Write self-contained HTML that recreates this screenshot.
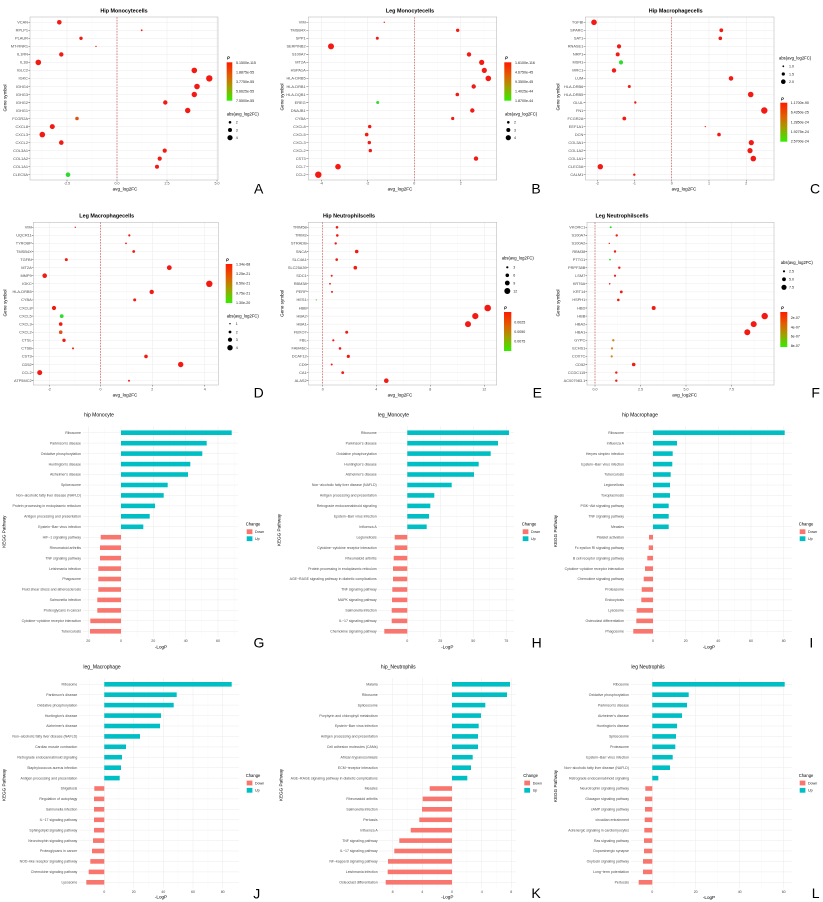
<!DOCTYPE html>
<html><head><meta charset="utf-8">
<style>
html,body{margin:0;padding:0;background:#fff;}
svg{display:block}
text{font-family:"Liberation Sans",Arial,sans-serif;}
.t{font-size:5.4px;font-weight:bold;text-anchor:middle;fill:#000}
.bt{font-size:5px;text-anchor:middle;fill:#000}
.gl{font-size:3.9px;text-anchor:end;fill:#4d4d4d}
.bl{font-size:3.5px;text-anchor:end;fill:#4d4d4d}
.tk{font-size:3.6px;text-anchor:middle;fill:#4d4d4d}
.ax{font-size:4.6px;text-anchor:middle;fill:#000}
.lg{font-size:3.6px;fill:#222}
.lt{font-size:4.2px;fill:#000}
.L{font-size:14px;fill:#000;text-anchor:middle}
.grid{stroke:#ebebeb;stroke-width:.5;fill:none}
.gmin{stroke:#f3f3f3;stroke-width:.3;fill:none}
.bord{fill:none;stroke:#b0b0b0;stroke-width:.5}
.dash{stroke:#c24040;stroke-width:.6;stroke-dasharray:1.6 1.2;fill:none}
.tm{stroke:#333;stroke-width:.4;fill:none}
.r{fill:#f21a12}
.g{fill:#2edb2e}
.o{fill:#e05418}
.o2{fill:#d0861c}
</style></head>
<body>
<svg width="823" height="902" viewBox="0 0 823 902" xmlns="http://www.w3.org/2000/svg">
<defs>
<linearGradient id="pg" x1="0" y1="0" x2="0" y2="1">
<stop offset="0" stop-color="#ff1a00"/>
<stop offset=".35" stop-color="#e06000"/>
<stop offset=".65" stop-color="#a0a000"/>
<stop offset="1" stop-color="#33ee00"/>
</linearGradient>
</defs>
<rect width="823" height="902" fill="#fff"/>

<!-- ================= A ================= -->
<text class="t" x="124" y="12.3">Hip Monocytecells</text>
<path d="M124 22.05V175.2" stroke="#ebebeb" stroke-width="188" stroke-dasharray=".5 7.52"/>
<path class="gmin" d="M42 17V180M92 17V180M142 17V180M192 17V180"/>
<path class="grid" d="M67 17V180M117 17V180M167 17V180M217 17V180"/>
<path class="dash" d="M117 17V180"/>
<rect class="bord" x="30" y="17" width="188" height="163"/>
<path d="M29.15 22.1V175.2" stroke="#333" stroke-width="1.7" stroke-dasharray=".4 7.62"/>
<path class="tm" d="M67 180v1.5M117 180v1.5M167 180v1.5M217 180v1.5"/>
<text class="gl" y="23.6"><tspan x="28">VCAN</tspan><tspan x="28" dy="8.02">RPLP1</tspan><tspan x="28" dy="8.02">PLAUR</tspan><tspan x="28" dy="8.02">MT-RNR1</tspan><tspan x="28" dy="8.02">IL1RN</tspan><tspan x="28" dy="8.02">IL1B</tspan><tspan x="28" dy="8.02">IGLC2</tspan><tspan x="28" dy="8.02">IGKC</tspan><tspan x="28" dy="8.02">IGHG4</tspan><tspan x="28" dy="8.02">IGHG3</tspan><tspan x="28" dy="8.02">IGHG2</tspan><tspan x="28" dy="8.02">IGHG1</tspan><tspan x="28" dy="8.02">FCGR2A</tspan><tspan x="28" dy="8.02">CXCL8</tspan><tspan x="28" dy="8.02">CXCL3</tspan><tspan x="28" dy="8.02">CXCL2</tspan><tspan x="28" dy="8.02">COL3A1</tspan><tspan x="28" dy="8.02">COL1A2</tspan><tspan x="28" dy="8.02">COL1A1</tspan><tspan x="28" dy="8.02">CLEC5A</tspan></text>
<g class="r">
<circle cx="59.3" cy="22.3" r="2.3"/><circle cx="141.7" cy="30.3" r=".9"/><circle cx="81" cy="38.3" r="1.7"/><circle cx="96" cy="46.4" r=".7"/><circle cx="61.3" cy="54.4" r="2.2"/><circle cx="38.3" cy="62.4" r="2.8"/><circle cx="194.3" cy="70.4" r="2.8"/><circle cx="209.3" cy="78.4" r="3.2"/><circle cx="197" cy="86.5" r="2.8"/><circle cx="194.3" cy="94.5" r="2.7"/><circle cx="165.3" cy="102.5" r="2.2"/><circle cx="187.7" cy="110.5" r="2.7"/><circle cx="52.3" cy="126.6" r="2.5"/><circle cx="42.3" cy="134.6" r="2.8"/><circle cx="61.3" cy="142.6" r="2.3"/><circle cx="164.7" cy="150.6" r="2.1"/><circle cx="159.7" cy="158.6" r="2.1"/><circle cx="157" cy="166.7" r="2"/>
</g>
<circle class="o" cx="77" cy="118.5" r="1.8"/>
<circle class="g" cx="68" cy="174.7" r="2.3"/>
<text class="tk" y="184.6"><tspan x="67">-2.5</tspan><tspan x="117">0.0</tspan><tspan x="167">2.5</tspan><tspan x="217">5.0</tspan></text>
<text class="ax" x="125" y="190.6">avg_log2FC</text>
<text class="ax" transform="translate(6.3,98) rotate(-90)">Gene symbol</text>
<text class="lt" x="227" y="59.5" font-style="italic" font-weight="bold">P</text>
<rect x="226.7" y="62.3" width="5.6" height="38.4" fill="url(#pg)"/>
<text class="lg" x="236" y="64">5.1500e-115</text><text class="lg" x="236" y="73.6">1.8875e-55</text><text class="lg" x="236" y="83">3.7750e-55</text><text class="lg" x="236" y="92.6">5.6625e-55</text><text class="lg" x="236" y="102">7.5500e-55</text>
<text class="lt" x="226.7" y="115.3">abs(avg_log2FC)</text>
<circle cx="230" cy="122.3" r="1.3"/><circle cx="230" cy="130" r="2"/><circle cx="230" cy="137.7" r="2.6"/>
<text class="lg" x="235.7" y="123.6">2</text><text class="lg" x="235.7" y="131.3">3</text><text class="lg" x="235.7" y="139">4</text>
<text class="L" x="258.7" y="193.3">A</text>

<!-- ================= B ================= -->
<text class="t" x="410" y="12.3">Leg Monocytecells</text>
<path d="M402.5 22.05V175.2" stroke="#ebebeb" stroke-width="188.4" stroke-dasharray=".5 7.52"/>
<path class="gmin" d="M344.5 17V180M391 17V180M437.5 17V180M484 17V180"/>
<path class="grid" d="M321.3 17V180M367.7 17V180M414.3 17V180M460.7 17V180"/>
<path class="dash" d="M414.3 17V180"/>
<rect class="bord" x="308.3" y="17" width="188.4" height="163"/>
<path d="M307.3 22.1V175.2" stroke="#333" stroke-width="2" stroke-dasharray=".4 7.62"/>
<path class="tm" d="M321.3 180v1.5M367.7 180v1.5M414.3 180v1.5M460.7 180v1.5"/>
<text class="gl" y="23.6"><tspan x="305.7">VIM</tspan><tspan x="305.7" dy="8.02">TMSB4X</tspan><tspan x="305.7" dy="8.02">SPP1</tspan><tspan x="305.7" dy="8.02">SERPINB2</tspan><tspan x="305.7" dy="8.02">S100A7</tspan><tspan x="305.7" dy="8.02">MT2A</tspan><tspan x="305.7" dy="8.02">HSPA1A</tspan><tspan x="305.7" dy="8.02">HLA-DRB5</tspan><tspan x="305.7" dy="8.02">HLA-DRB1</tspan><tspan x="305.7" dy="8.02">HLA-DQB1</tspan><tspan x="305.7" dy="8.02">EREG</tspan><tspan x="305.7" dy="8.02">DNAJB1</tspan><tspan x="305.7" dy="8.02">CYBA</tspan><tspan x="305.7" dy="8.02">CXCL8</tspan><tspan x="305.7" dy="8.02">CXCL5</tspan><tspan x="305.7" dy="8.02">CXCL3</tspan><tspan x="305.7" dy="8.02">CXCL2</tspan><tspan x="305.7" dy="8.02">CST3</tspan><tspan x="305.7" dy="8.02">CCL7</tspan><tspan x="305.7" dy="8.02">CCL2</tspan></text>
<g class="r">
<circle cx="384.3" cy="22.3" r=".7"/><circle cx="457.7" cy="30.3" r="1.7"/><circle cx="377.3" cy="38.3" r="1.5"/><circle cx="331" cy="46.4" r="3"/><circle cx="469" cy="54.4" r="2.2"/><circle cx="481.7" cy="62.4" r="2.6"/><circle cx="484.3" cy="70.4" r="2.6"/><circle cx="488.3" cy="78.4" r="2.8"/><circle cx="473.7" cy="86.5" r="2.2"/><circle cx="457.3" cy="94.5" r="1.8"/><circle cx="472.3" cy="110.5" r="2.2"/><circle cx="452.7" cy="118.5" r="1.6"/><circle cx="369.7" cy="126.6" r="1.7"/><circle cx="366.7" cy="134.6" r="1.8"/><circle cx="369.3" cy="142.6" r="1.7"/><circle cx="370.3" cy="150.6" r="1.7"/><circle cx="476" cy="158.6" r="2.2"/><circle cx="338" cy="166.7" r="2.8"/><circle cx="318.3" cy="174.7" r="3.2"/>
</g>
<circle class="g" cx="377.7" cy="102.5" r="1.5"/>
<text class="tk" y="184.6"><tspan x="321.3">-4</tspan><tspan x="367.7">-2</tspan><tspan x="414.3">0</tspan><tspan x="460.7">2</tspan></text>
<text class="ax" x="400" y="190.6">avg_log2FC</text>
<text class="ax" transform="translate(283.3,97) rotate(-90)">Gene symbol</text>
<text class="lt" x="505" y="59.5" font-style="italic" font-weight="bold">P</text>
<rect x="504.3" y="62.3" width="7" height="38.4" fill="url(#pg)"/>
<text class="lg" x="515" y="64">1.6100e-116</text><text class="lg" x="515" y="73.6">4.6750e-45</text><text class="lg" x="515" y="83">9.3500e-45</text><text class="lg" x="515" y="92.6">1.4025e-44</text><text class="lg" x="515" y="102">1.8700e-44</text>
<text class="lt" x="505" y="115.6">abs(avg_log2FC)</text>
<circle cx="508.3" cy="122.3" r="1.3"/><circle cx="508.3" cy="130" r="2"/><circle cx="508.3" cy="137.7" r="2.6"/>
<text class="lg" x="514" y="123.6">2</text><text class="lg" x="514" y="131.3">3</text><text class="lg" x="514" y="139">4</text>
<text class="L" x="536" y="193.3">B</text>

<!-- ================= C ================= -->
<text class="t" x="675.7" y="12.3">Hip Macrophagecells</text>
<path d="M679.65 22.05V175.2" stroke="#ebebeb" stroke-width="188.7" stroke-dasharray=".5 7.52"/>
<path class="gmin" d="M615.8 17V180M653 17V180M690.3 17V180M727.7 17V180M765 17V180"/>
<path class="grid" d="M597.3 17V180M634.3 17V180M671.7 17V180M709 17V180M746.3 17V180"/>
<path class="dash" d="M671.7 17V180"/>
<rect class="bord" x="585.3" y="17" width="188.7" height="163"/>
<path d="M584.45 22.1V175.2" stroke="#333" stroke-width="1.7" stroke-dasharray=".4 7.62"/>
<path class="tm" d="M597.3 180v1.5M634.3 180v1.5M671.7 180v1.5M709 180v1.5M746.3 180v1.5"/>
<text class="gl" y="23.6"><tspan x="583.3">TGFBI</tspan><tspan x="583.3" dy="8.02">SPARC</tspan><tspan x="583.3" dy="8.02">SAT1</tspan><tspan x="583.3" dy="8.02">RNASE1</tspan><tspan x="583.3" dy="8.02">NRP1</tspan><tspan x="583.3" dy="8.02">MSR1</tspan><tspan x="583.3" dy="8.02">MRC1</tspan><tspan x="583.3" dy="8.02">LUM</tspan><tspan x="583.3" dy="8.02">HLA-DRB6</tspan><tspan x="583.3" dy="8.02">HLA-DRB5</tspan><tspan x="583.3" dy="8.02">GLUL</tspan><tspan x="583.3" dy="8.02">FN1</tspan><tspan x="583.3" dy="8.02">FCGR2A</tspan><tspan x="583.3" dy="8.02">EEF1A1</tspan><tspan x="583.3" dy="8.02">DCN</tspan><tspan x="583.3" dy="8.02">COL3A1</tspan><tspan x="583.3" dy="8.02">COL1A2</tspan><tspan x="583.3" dy="8.02">COL1A1</tspan><tspan x="583.3" dy="8.02">CLEC5A</tspan><tspan x="583.3" dy="8.02">CALM1</tspan></text>
<g class="r">
<circle cx="594" cy="22.3" r="2.8"/><circle cx="721.3" cy="30.3" r="1.9"/><circle cx="720.3" cy="38.3" r="1.8"/><circle cx="619" cy="46.4" r="2.1"/><circle cx="617.7" cy="54.4" r="2"/><circle cx="614" cy="70.4" r="2.2"/><circle cx="731" cy="78.4" r="2.3"/><circle cx="629.3" cy="86.5" r="1.5"/><circle cx="750.7" cy="94.5" r="2.8"/><circle cx="635.3" cy="102.5" r="1.2"/><circle cx="764.3" cy="110.5" r="3.2"/><circle cx="624.3" cy="118.5" r="1.9"/><circle cx="705.3" cy="126.6" r=".6"/><circle cx="719" cy="134.6" r="1.8"/><circle cx="751.3" cy="142.6" r="2.6"/><circle cx="750" cy="150.6" r="2.6"/><circle cx="753.3" cy="158.6" r="2.8"/><circle cx="600.3" cy="166.7" r="2.7"/><circle cx="634.3" cy="174.7" r="1.2"/>
</g>
<circle class="g" cx="621" cy="62.4" r="2.1"/>
<text class="tk" y="184.6"><tspan x="597.3">-2</tspan><tspan x="634.3">-1</tspan><tspan x="671.7">0</tspan><tspan x="709">1</tspan><tspan x="746.3">2</tspan></text>
<text class="ax" x="684" y="190.6">avg_log2FC</text>
<text class="ax" transform="translate(559.6,97) rotate(-90)">Gene symbol</text>
<text class="lt" x="779" y="59.3">abs(avg_log2FC)</text>
<circle cx="783.3" cy="66.3" r=".9"/><circle cx="783.3" cy="74" r="1.6"/><circle cx="783.3" cy="81.7" r="2.3"/>
<text class="lg" x="789" y="67.6">1.0</text><text class="lg" x="789" y="75.3">1.5</text><text class="lg" x="789" y="83">2.0</text>
<text class="lt" x="781" y="100.6" font-style="italic" font-weight="bold">P</text>
<rect x="780.3" y="102.7" width="7" height="39" fill="url(#pg)"/>
<text class="lg" x="790.7" y="104">1.1700e-90</text><text class="lg" x="790.7" y="113.6">6.4350e-25</text><text class="lg" x="790.7" y="123.3">1.2850e-24</text><text class="lg" x="790.7" y="133">1.9275e-24</text><text class="lg" x="790.7" y="142.6">2.5700e-24</text>
<text class="L" x="815" y="193.3">C</text>

<!-- ================= D ================= -->
<text class="t" x="106.7" y="217.3">Leg Macrophagecells</text>
<path d="M125.8 227.05V381" stroke="#ebebeb" stroke-width="185" stroke-dasharray=".5 7.57"/>
<path class="gmin" d="M75 222.3V385M126.5 222.3V385M178.5 222.3V385"/>
<path class="grid" d="M49.3 222.3V385M100.5 222.3V385M152.3 222.3V385M204.7 222.3V385"/>
<path class="dash" d="M100.5 222.3V385"/>
<rect class="bord" x="33.3" y="222.3" width="185" height="162.7"/>
<path d="M32.55 227.1V381" stroke="#333" stroke-width="1.5" stroke-dasharray=".4 7.67"/>
<path class="tm" d="M49.3 385v1.5M100.5 385v1.5M152.3 385v1.5M204.7 385v1.5"/>
<text class="gl" y="228.6"><tspan x="31.7">VIM</tspan><tspan x="31.7" dy="8.07">UQCR11</tspan><tspan x="31.7" dy="8.07">TYROBP</tspan><tspan x="31.7" dy="8.07">TMSB4X</tspan><tspan x="31.7" dy="8.07">TGFBI</tspan><tspan x="31.7" dy="8.07">MT2A</tspan><tspan x="31.7" dy="8.07">MMP9</tspan><tspan x="31.7" dy="8.07">IGKC</tspan><tspan x="31.7" dy="8.07">HLA-DRB5</tspan><tspan x="31.7" dy="8.07">CYBA</tspan><tspan x="31.7" dy="8.07">CXCL8</tspan><tspan x="31.7" dy="8.07">CXCL5</tspan><tspan x="31.7" dy="8.07">CXCL3</tspan><tspan x="31.7" dy="8.07">CXCL2</tspan><tspan x="31.7" dy="8.07">CTSL</tspan><tspan x="31.7" dy="8.07">CTSB</tspan><tspan x="31.7" dy="8.07">CST3</tspan><tspan x="31.7" dy="8.07">CD52</tspan><tspan x="31.7" dy="8.07">CCL2</tspan><tspan x="31.7" dy="8.07">ATP5MC2</tspan></text>
<g class="r">
<circle cx="75.3" cy="227.3" r=".7"/><circle cx="129.3" cy="235.4" r="1.1"/><circle cx="126" cy="243.4" r=".9"/><circle cx="133.7" cy="251.5" r="1.4"/><circle cx="66.3" cy="259.6" r="1.5"/><circle cx="169.3" cy="267.7" r="2.4"/><circle cx="44.7" cy="275.7" r="2.3"/><circle cx="209.3" cy="283.8" r="3.2"/><circle cx="151.7" cy="291.9" r="2.2"/><circle cx="134.7" cy="299.9" r="1.5"/><circle cx="54" cy="308" r="2.1"/><circle cx="60.7" cy="324.1" r="1.8"/><circle cx="64" cy="340.3" r="1.7"/><circle cx="73" cy="348.4" r="1"/><circle cx="146" cy="356.4" r="1.8"/><circle cx="180.7" cy="364.5" r="2.7"/><circle cx="39.7" cy="372.6" r="2.5"/><circle cx="129" cy="380.7" r="1"/>
</g>
<circle class="g" cx="61.7" cy="316.1" r="1.9"/>
<circle class="o" cx="60.7" cy="332.2" r="1.8"/>
<text class="tk" y="390.6"><tspan x="49.3">-2</tspan><tspan x="100.5">0</tspan><tspan x="152.3">2</tspan><tspan x="204.7">4</tspan></text>
<text class="ax" x="125" y="396.5">avg_log2FC</text>
<text class="ax" transform="translate(6.3,303) rotate(-90)">Gene symbol</text>
<text class="lt" x="226" y="261.3" font-style="italic" font-weight="bold">P</text>
<rect x="225.7" y="264" width="6.6" height="39" fill="url(#pg)"/>
<text class="lg" x="236" y="265.3">1.34e-68</text><text class="lg" x="236" y="275">3.25e-21</text><text class="lg" x="236" y="284.6">6.50e-21</text><text class="lg" x="236" y="294.3">9.75e-21</text><text class="lg" x="236" y="304">1.30e-20</text>
<text class="lt" x="226.7" y="317.3">abs(avg_log2FC)</text>
<circle cx="230" cy="323.7" r=".7"/><circle cx="230" cy="332" r="1.4"/><circle cx="230" cy="339.7" r="2.1"/><circle cx="230" cy="347.7" r="2.7"/>
<text class="lg" x="235.7" y="325">1</text><text class="lg" x="235.7" y="333.3">2</text><text class="lg" x="235.7" y="341">3</text><text class="lg" x="235.7" y="349">4</text>
<text class="L" x="258.7" y="397.7">D</text>

<!-- ================= E ================= -->
<text class="t" x="349" y="217.3">Hip Neutrophilscells</text>
<path d="M402.5 227.05V381" stroke="#ebebeb" stroke-width="188.4" stroke-dasharray=".5 7.57"/>
<path class="gmin" d="M349.5 222.3V385M403.3 222.3V385M457.3 222.3V385"/>
<path class="grid" d="M322.7 222.3V385M376.3 222.3V385M430.3 222.3V385M484.3 222.3V385"/>
<path class="dash" d="M322.7 222.3V385"/>
<rect class="bord" x="308.3" y="222.3" width="188.4" height="162.7"/>
<path d="M307.55 227.1V381" stroke="#333" stroke-width="1.5" stroke-dasharray=".4 7.67"/>
<path class="tm" d="M322.7 385v1.5M376.3 385v1.5M430.3 385v1.5M484.3 385v1.5"/>
<text class="gl" y="228.6"><tspan x="306.7">TRIM58</tspan><tspan x="306.7" dy="8.07">TRIM2</tspan><tspan x="306.7" dy="8.07">STRADB</tspan><tspan x="306.7" dy="8.07">SNCA</tspan><tspan x="306.7" dy="8.07">SLC4A1</tspan><tspan x="306.7" dy="8.07">SLC25A39</tspan><tspan x="306.7" dy="8.07">SDC1</tspan><tspan x="306.7" dy="8.07">RBM38</tspan><tspan x="306.7" dy="8.07">PERP</tspan><tspan x="306.7" dy="8.07">HES1</tspan><tspan x="306.7" dy="8.07">HBB</tspan><tspan x="306.7" dy="8.07">HBA2</tspan><tspan x="306.7" dy="8.07">HBA1</tspan><tspan x="306.7" dy="8.07">FBXO7</tspan><tspan x="306.7" dy="8.07">FBL</tspan><tspan x="306.7" dy="8.07">FAM46C</tspan><tspan x="306.7" dy="8.07">DCAF12</tspan><tspan x="306.7" dy="8.07">CD9</tspan><tspan x="306.7" dy="8.07">CA1</tspan><tspan x="306.7" dy="8.07">ALAS2</tspan></text>
<g class="r">
<circle cx="337" cy="227.3" r="1.3"/><circle cx="337.3" cy="235.4" r="1.3"/><circle cx="335.7" cy="243.4" r="1.2"/><circle cx="356.7" cy="251.5" r="1.8"/><circle cx="336.7" cy="259.6" r="1.3"/><circle cx="355.3" cy="267.7" r="1.8"/><circle cx="331.7" cy="275.7" r="1"/><circle cx="330" cy="283.8" r=".9"/><circle cx="332" cy="291.9" r="1"/><circle cx="487.7" cy="308" r="3.3"/><circle cx="475.3" cy="316.1" r="3.1"/><circle cx="468" cy="324.1" r="3"/><circle cx="346.7" cy="332.2" r="1.5"/><circle cx="333.3" cy="340.3" r="1.1"/><circle cx="340" cy="348.4" r="1.3"/><circle cx="348.3" cy="356.4" r="1.6"/><circle cx="331.7" cy="364.5" r="1"/><circle cx="342.7" cy="372.6" r="1.4"/><circle cx="386.3" cy="380.7" r="2.3"/>
</g>
<circle class="g" cx="316.3" cy="299.9" r=".6"/>
<text class="tk" y="390.6"><tspan x="322.7">0</tspan><tspan x="376.3">4</tspan><tspan x="430.3">8</tspan><tspan x="484.3">12</tspan></text>
<text class="ax" x="400" y="396.5">avg_log2FC</text>
<text class="ax" transform="translate(283.3,303.3) rotate(-90)">Gene symbol</text>
<text class="lt" x="501.7" y="259.3">abs(avg_log2FC)</text>
<circle cx="507.3" cy="267.3" r="1.1"/><circle cx="507.3" cy="275.3" r="1.8"/><circle cx="507.3" cy="283" r="2.4"/><circle cx="507.3" cy="291" r="3"/>
<text class="lg" x="513.3" y="268.6">3</text><text class="lg" x="513.3" y="276.6">6</text><text class="lg" x="513.3" y="284.3">9</text><text class="lg" x="513.3" y="292.3">12</text>
<text class="lt" x="504" y="309.6" font-style="italic" font-weight="bold">P</text>
<rect x="504" y="312" width="7.3" height="39" fill="url(#pg)"/>
<text class="lg" x="514.3" y="323.3">0.0025</text><text class="lg" x="514.3" y="333">0.0050</text><text class="lg" x="514.3" y="342.6">0.0075</text>
<text class="L" x="537.3" y="397.7">E</text>

<!-- ================= F ================= -->
<text class="t" x="622" y="217.3">Leg Neutrophilscells</text>
<path d="M680.5 227.05V381" stroke="#ebebeb" stroke-width="187" stroke-dasharray=".5 7.57"/>
<path class="gmin" d="M617.7 222.3V385M663.2 222.3V385M708.7 222.3V385M754.2 222.3V385"/>
<path class="grid" d="M595 222.3V385M640.5 222.3V385M686 222.3V385M731.5 222.3V385"/>
<path class="dash" d="M595 222.3V385"/>
<rect class="bord" x="587" y="222.3" width="187" height="162.7"/>
<path d="M586.2 227.1V381" stroke="#333" stroke-width="1.6" stroke-dasharray=".4 7.67"/>
<path class="tm" d="M595 385v1.5M640.5 385v1.5M686 385v1.5M731.5 385v1.5"/>
<text class="gl" y="228.6"><tspan x="585.3">VKORC1</tspan><tspan x="585.3" dy="8.07">S100A7</tspan><tspan x="585.3" dy="8.07">S100A2</tspan><tspan x="585.3" dy="8.07">RBM38</tspan><tspan x="585.3" dy="8.07">PTTG1</tspan><tspan x="585.3" dy="8.07">PRPF38B</tspan><tspan x="585.3" dy="8.07">LSM7</tspan><tspan x="585.3" dy="8.07">KRT6A</tspan><tspan x="585.3" dy="8.07">KRT14</tspan><tspan x="585.3" dy="8.07">HSPH1</tspan><tspan x="585.3" dy="8.07">HBD</tspan><tspan x="585.3" dy="8.07">HBB</tspan><tspan x="585.3" dy="8.07">HBA2</tspan><tspan x="585.3" dy="8.07">HBA1</tspan><tspan x="585.3" dy="8.07">GYPC</tspan><tspan x="585.3" dy="8.07">ECHS1</tspan><tspan x="585.3" dy="8.07">COX7C</tspan><tspan x="585.3" dy="8.07">CD52</tspan><tspan x="585.3" dy="8.07">CCDC115</tspan><tspan x="585.3" dy="8.07">AC007983.1</tspan></text>
<g class="r">
<circle cx="616.7" cy="235.4" r="1.2"/><circle cx="609.3" cy="243.4" r=".7"/><circle cx="615" cy="251.5" r="1.2"/><circle cx="619.3" cy="267.7" r="1.2"/><circle cx="615" cy="275.7" r="1.1"/><circle cx="609.7" cy="283.8" r=".8"/><circle cx="621.3" cy="291.9" r="1.4"/><circle cx="618.3" cy="299.9" r="1.3"/><circle cx="653.7" cy="308" r="2"/><circle cx="764.7" cy="316.1" r="3.2"/><circle cx="753.7" cy="324.1" r="3"/><circle cx="747.3" cy="332.2" r="3"/><circle cx="633.7" cy="364.5" r="1.8"/><circle cx="616.3" cy="372.6" r="1.2"/><circle cx="616.3" cy="380.7" r="1.2"/>
</g>
<g class="g"><circle cx="610.7" cy="227.3" r="1"/><circle cx="610" cy="259.6" r=".9"/></g>
<g class="o2"><circle cx="613.3" cy="340.3" r="1.2"/><circle cx="612" cy="348.4" r="1.1"/><circle cx="611.7" cy="356.4" r="1.1"/></g>
<text class="tk" y="390.6"><tspan x="595">0.0</tspan><tspan x="640.5">2.5</tspan><tspan x="686">5.0</tspan><tspan x="731.5">7.5</tspan></text>
<text class="ax" x="684.7" y="396.5">avg_log2FC</text>
<text class="ax" transform="translate(559.6,303) rotate(-90)">Gene symbol</text>
<text class="lt" x="780.7" y="264">abs(avg_log2FC)</text>
<circle cx="784" cy="271.3" r="1.1"/><circle cx="784" cy="279.3" r="1.9"/><circle cx="784" cy="287.3" r="2.6"/>
<text class="lg" x="789" y="272.6">2.5</text><text class="lg" x="789" y="280.6">5.0</text><text class="lg" x="789" y="288.6">7.5</text>
<text class="lt" x="781" y="309.6" font-style="italic" font-weight="bold">P</text>
<rect x="780.3" y="312" width="7" height="35" fill="url(#pg)"/>
<text class="lg" x="790.7" y="319">2e-07</text><text class="lg" x="790.7" y="328.3">4e-07</text><text class="lg" x="790.7" y="337.6">6e-07</text><text class="lg" x="790.7" y="347">8e-07</text>
<text class="L" x="815.7" y="397.7">F</text>

<!-- ================= G ================= -->
<text class="bt" x="99" y="416.5">hip Monocyte</text>
<path d="M160.5 432.45V632" stroke="#ebebeb" stroke-width="155" stroke-dasharray=".5 9.95"/>
<path class="gmin" d="M104.7 426.4V637.6M137.2 426.4V637.6M169.5 426.4V637.6M201.8 426.4V637.6M234.2 426.4V637.6"/>
<path class="grid" d="M88.3 426.4V637.6M121 426.4V637.6M153.3 426.4V637.6M185.7 426.4V637.6M218 426.4V637.6"/>
<g fill="#00BFC4">
<rect x="121" y="430.4" width="110.7" height="4.6"/><rect x="121" y="440.9" width="85.7" height="4.6"/><rect x="121" y="451.3" width="81.3" height="4.6"/><rect x="121" y="461.8" width="69.3" height="4.6"/><rect x="121" y="472.2" width="67" height="4.6"/><rect x="121" y="482.7" width="46.7" height="4.6"/><rect x="121" y="493.1" width="42.7" height="4.6"/><rect x="121" y="503.6" width="34" height="4.6"/><rect x="121" y="514" width="28.7" height="4.6"/><rect x="121" y="524.5" width="22.3" height="4.6"/>
</g>
<g fill="#F8766D">
<rect x="100.7" y="534.9" width="20.3" height="4.6"/><rect x="100" y="545.4" width="21" height="4.6"/><rect x="100" y="555.8" width="21" height="4.6"/><rect x="98.3" y="566.3" width="22.7" height="4.6"/><rect x="98.3" y="576.7" width="22.7" height="4.6"/><rect x="98.3" y="587.2" width="22.7" height="4.6"/><rect x="97.3" y="597.6" width="23.7" height="4.6"/><rect x="97.3" y="608.1" width="23.7" height="4.6"/><rect x="90.3" y="618.6" width="30.7" height="4.6"/><rect x="90" y="629" width="31" height="4.6"/>
</g>
<text class="bl" y="433.9"><tspan x="81">Ribosome</tspan><tspan x="81" dy="10.45">Parkinson's disease</tspan><tspan x="81" dy="10.45">Oxidative phosphorylation</tspan><tspan x="81" dy="10.45">Huntington's disease</tspan><tspan x="81" dy="10.45">Alzheimer's disease</tspan><tspan x="81" dy="10.45">Spliceosome</tspan><tspan x="81" dy="10.45">Non−alcoholic fatty liver disease (NAFLD)</tspan><tspan x="81" dy="10.45">Protein processing in endoplasmic reticulum</tspan><tspan x="81" dy="10.45">Antigen processing and presentation</tspan><tspan x="81" dy="10.45">Epstein−Barr virus infection</tspan><tspan x="81" dy="10.45">HIF−1 signaling pathway</tspan><tspan x="81" dy="10.45">Rheumatoid arthritis</tspan><tspan x="81" dy="10.45">TNF signaling pathway</tspan><tspan x="81" dy="10.45">Leishmania infection</tspan><tspan x="81" dy="10.45">Phagosome</tspan><tspan x="81" dy="10.45">Fluid shear stress and atherosclerosis</tspan><tspan x="81" dy="10.45">Salmonella infection</tspan><tspan x="81" dy="10.45">Proteoglycans in cancer</tspan><tspan x="81" dy="10.45">Cytokine−cytokine receptor interaction</tspan><tspan x="81" dy="10.45">Tuberculosis</tspan></text>
<text class="tk" y="642"><tspan x="88.3">20</tspan><tspan x="121">0</tspan><tspan x="153.3">20</tspan><tspan x="185.7">40</tspan><tspan x="218">60</tspan></text>
<text class="ax" x="161" y="648.5">-LogP</text>
<text class="ax" transform="translate(5.6,531.7) rotate(-90)">KEGG Pathway</text>
<text class="lt" x="245.7" y="525.5">Change</text>
<rect x="246.7" y="529.3" width="5.7" height="4.8" fill="#F8766D"/><rect x="246.7" y="536.3" width="5.7" height="4.8" fill="#00BFC4"/>
<text class="lg" x="255" y="533" font-size="3.3">Down</text><text class="lg" x="255" y="540" font-size="3.3">Up</text>
<text class="L" x="259" y="647.7">G</text>

<!-- ================= H ================= -->
<text class="bt" x="393.5" y="416.5">leg_Monocyte</text>
<path d="M446 432.45V632" stroke="#ebebeb" stroke-width="136" stroke-dasharray=".5 9.95"/>
<path class="gmin" d="M390.8 426.4V637.6M423.8 426.4V637.6M456.8 426.4V637.6M489.8 426.4V637.6"/>
<path class="grid" d="M407.3 426.4V637.6M440.3 426.4V637.6M473.3 426.4V637.6M506.3 426.4V637.6"/>
<g fill="#00BFC4">
<rect x="407.3" y="430.4" width="101.7" height="4.6"/><rect x="407.3" y="440.9" width="90.7" height="4.6"/><rect x="407.3" y="451.3" width="83.4" height="4.6"/><rect x="407.3" y="461.8" width="71.4" height="4.6"/><rect x="407.3" y="472.2" width="66.7" height="4.6"/><rect x="407.3" y="482.7" width="44.4" height="4.6"/><rect x="407.3" y="493.1" width="27" height="4.6"/><rect x="407.3" y="503.6" width="23" height="4.6"/><rect x="407.3" y="514" width="21.7" height="4.6"/><rect x="407.3" y="524.5" width="19.4" height="4.6"/>
</g>
<g fill="#F8766D">
<rect x="394.7" y="534.9" width="12.6" height="4.6"/><rect x="394.7" y="545.4" width="12.6" height="4.6"/><rect x="393.7" y="555.8" width="13.6" height="4.6"/><rect x="393" y="566.3" width="14.3" height="4.6"/><rect x="393" y="576.7" width="14.3" height="4.6"/><rect x="392.3" y="587.2" width="15" height="4.6"/><rect x="392" y="597.6" width="15.3" height="4.6"/><rect x="391.7" y="608.1" width="15.6" height="4.6"/><rect x="391.7" y="618.6" width="15.6" height="4.6"/><rect x="384.3" y="629" width="23" height="4.6"/>
</g>
<text class="bl" y="433.9"><tspan x="376.7">Ribosome</tspan><tspan x="376.7" dy="10.45">Parkinson's disease</tspan><tspan x="376.7" dy="10.45">Oxidative phosphorylation</tspan><tspan x="376.7" dy="10.45">Huntington's disease</tspan><tspan x="376.7" dy="10.45">Alzheimer's disease</tspan><tspan x="376.7" dy="10.45">Non−alcoholic fatty liver disease (NAFLD)</tspan><tspan x="376.7" dy="10.45">Antigen processing and presentation</tspan><tspan x="376.7" dy="10.45">Retrograde endocannabinoid signaling</tspan><tspan x="376.7" dy="10.45">Epstein−Barr virus infection</tspan><tspan x="376.7" dy="10.45">Influenza A</tspan><tspan x="376.7" dy="10.45">Legionellosis</tspan><tspan x="376.7" dy="10.45">Cytokine−cytokine receptor interaction</tspan><tspan x="376.7" dy="10.45">Rheumatoid arthritis</tspan><tspan x="376.7" dy="10.45">Protein processing in endoplasmic reticulum</tspan><tspan x="376.7" dy="10.45">AGE−RAGE signaling pathway in diabetic complications</tspan><tspan x="376.7" dy="10.45">TNF signaling pathway</tspan><tspan x="376.7" dy="10.45">MAPK signaling pathway</tspan><tspan x="376.7" dy="10.45">Salmonella infection</tspan><tspan x="376.7" dy="10.45">IL−17 signaling pathway</tspan><tspan x="376.7" dy="10.45">Chemokine signaling pathway</tspan></text>
<text class="tk" y="642"><tspan x="407.3">0</tspan><tspan x="440.3">25</tspan><tspan x="473.3">50</tspan><tspan x="506.3">75</tspan></text>
<text class="ax" x="447.3" y="648.5">-LogP</text>
<text class="ax" transform="translate(280.6,530) rotate(-90)">KEGG Pathway</text>
<text class="lt" x="521.7" y="525.5">Change</text>
<rect x="522.7" y="529.3" width="5.7" height="4.8" fill="#F8766D"/><rect x="522.7" y="536.3" width="5.7" height="4.8" fill="#00BFC4"/>
<text class="lg" x="531" y="533" font-size="3.3">Down</text><text class="lg" x="531" y="540" font-size="3.3">Up</text>
<text class="L" x="536.7" y="647.7">H</text>

<!-- ================= I ================= -->
<text class="bt" x="640" y="416.5">hip Macrophage</text>
<path d="M709 432.45V632" stroke="#ebebeb" stroke-width="166" stroke-dasharray=".5 9.95"/>
<path class="gmin" d="M636.7 426.4V637.6M669.3 426.4V637.6M702 426.4V637.6M734.7 426.4V637.6M767.3 426.4V637.6"/>
<path class="grid" d="M653 426.4V637.6M685.7 426.4V637.6M718.3 426.4V637.6M751 426.4V637.6M783.7 426.4V637.6"/>
<g fill="#00BFC4">
<rect x="653" y="430.4" width="131.7" height="4.6"/><rect x="653" y="440.9" width="24" height="4.6"/><rect x="653" y="451.3" width="19.7" height="4.6"/><rect x="653" y="461.8" width="19.3" height="4.6"/><rect x="653" y="472.2" width="17.7" height="4.6"/><rect x="653" y="482.7" width="17" height="4.6"/><rect x="653" y="493.1" width="17" height="4.6"/><rect x="653" y="503.6" width="15.7" height="4.6"/><rect x="653" y="514" width="15.7" height="4.6"/><rect x="653" y="524.5" width="15.7" height="4.6"/>
</g>
<g fill="#F8766D">
<rect x="649" y="534.9" width="4" height="4.6"/><rect x="648.7" y="545.4" width="4.3" height="4.6"/><rect x="647.3" y="555.8" width="5.7" height="4.6"/><rect x="645" y="566.3" width="8" height="4.6"/><rect x="643.7" y="576.7" width="9.3" height="4.6"/><rect x="641.7" y="587.2" width="11.3" height="4.6"/><rect x="641.3" y="597.6" width="11.7" height="4.6"/><rect x="636.7" y="608.1" width="16.3" height="4.6"/><rect x="636.3" y="618.6" width="16.7" height="4.6"/><rect x="633.3" y="629" width="19.7" height="4.6"/>
</g>
<text class="bl" y="433.9"><tspan x="624">Ribosome</tspan><tspan x="624" dy="10.45">Influenza A</tspan><tspan x="624" dy="10.45">Herpes simplex infection</tspan><tspan x="624" dy="10.45">Epstein−Barr virus infection</tspan><tspan x="624" dy="10.45">Tuberculosis</tspan><tspan x="624" dy="10.45">Legionellosis</tspan><tspan x="624" dy="10.45">Toxoplasmosis</tspan><tspan x="624" dy="10.45">PI3K−Akt signaling pathway</tspan><tspan x="624" dy="10.45">TNF signaling pathway</tspan><tspan x="624" dy="10.45">Measles</tspan><tspan x="624" dy="10.45">Platelet activation</tspan><tspan x="624" dy="10.45">Fc epsilon RI signaling pathway</tspan><tspan x="624" dy="10.45">B cell receptor signaling pathway</tspan><tspan x="624" dy="10.45">Cytokine−cytokine receptor interaction</tspan><tspan x="624" dy="10.45">Chemokine signaling pathway</tspan><tspan x="624" dy="10.45">Proteasome</tspan><tspan x="624" dy="10.45">Endocytosis</tspan><tspan x="624" dy="10.45">Lysosome</tspan><tspan x="624" dy="10.45">Osteoclast differentiation</tspan><tspan x="624" dy="10.45">Phagosome</tspan></text>
<text class="tk" y="642"><tspan x="653">0</tspan><tspan x="685.7">20</tspan><tspan x="718.3">40</tspan><tspan x="751">60</tspan><tspan x="783.7">80</tspan></text>
<text class="ax" x="709" y="648.5">-LogP</text>
<text class="ax" transform="translate(557,531) rotate(-90)">KEGG Pathway</text>
<text class="lt" x="798.7" y="525.5">Change</text>
<rect x="799.7" y="529.3" width="5.7" height="4.8" fill="#F8766D"/><rect x="799.7" y="536.3" width="5.7" height="4.8" fill="#00BFC4"/>
<text class="lg" x="808" y="533" font-size="3.3">Down</text><text class="lg" x="808" y="540" font-size="3.3">Up</text>
<text class="L" x="811.3" y="647.7">I</text>

<!-- ================= J ================= -->
<text class="bt" x="102" y="668.5">leg_Macrophage</text>
<path d="M159 684.05V883" stroke="#ebebeb" stroke-width="160" stroke-dasharray=".5 9.92"/>
<path class="gmin" d="M89.5 678V888.5M119 678V888.5M148.5 678V888.5M178 678V888.5M208 678V888.5"/>
<path class="grid" d="M104.3 678V888.5M133.7 678V888.5M163.3 678V888.5M193 678V888.5M222.7 678V888.5"/>
<g fill="#00BFC4">
<rect x="104.3" y="682" width="127.4" height="4.6"/><rect x="104.3" y="692.4" width="72.4" height="4.6"/><rect x="104.3" y="702.8" width="69.4" height="4.6"/><rect x="104.3" y="713.3" width="56.7" height="4.6"/><rect x="104.3" y="723.7" width="55.7" height="4.6"/><rect x="104.3" y="734.1" width="35.7" height="4.6"/><rect x="104.3" y="744.5" width="21.7" height="4.6"/><rect x="104.3" y="754.9" width="17.7" height="4.6"/><rect x="104.3" y="765.4" width="16.7" height="4.6"/><rect x="104.3" y="775.8" width="15.4" height="4.6"/>
</g>
<g fill="#F8766D">
<rect x="94.3" y="786.2" width="10" height="4.6"/><rect x="94" y="796.6" width="10.3" height="4.6"/><rect x="94" y="807" width="10.3" height="4.6"/><rect x="94" y="817.5" width="10.3" height="4.6"/><rect x="94" y="827.9" width="10.3" height="4.6"/><rect x="93" y="838.3" width="11.3" height="4.6"/><rect x="92" y="848.7" width="12.3" height="4.6"/><rect x="90.3" y="859.1" width="14" height="4.6"/><rect x="88.7" y="869.6" width="15.6" height="4.6"/><rect x="86.3" y="880" width="18" height="4.6"/>
</g>
<text class="bl" y="685.5"><tspan x="77.3">Ribosome</tspan><tspan x="77.3" dy="10.42">Parkinson's disease</tspan><tspan x="77.3" dy="10.42">Oxidative phosphorylation</tspan><tspan x="77.3" dy="10.42">Huntington's disease</tspan><tspan x="77.3" dy="10.42">Alzheimer's disease</tspan><tspan x="77.3" dy="10.42">Non−alcoholic fatty liver disease (NAFLD)</tspan><tspan x="77.3" dy="10.42">Cardiac muscle contraction</tspan><tspan x="77.3" dy="10.42">Retrograde endocannabinoid signaling</tspan><tspan x="77.3" dy="10.42">Staphylococcus aureus infection</tspan><tspan x="77.3" dy="10.42">Antigen processing and presentation</tspan><tspan x="77.3" dy="10.42">Shigellosis</tspan><tspan x="77.3" dy="10.42">Regulation of autophagy</tspan><tspan x="77.3" dy="10.42">Salmonella infection</tspan><tspan x="77.3" dy="10.42">IL−17 signaling pathway</tspan><tspan x="77.3" dy="10.42">Sphingolipid signaling pathway</tspan><tspan x="77.3" dy="10.42">Neurotrophin signaling pathway</tspan><tspan x="77.3" dy="10.42">Proteoglycans in cancer</tspan><tspan x="77.3" dy="10.42">NOD−like receptor signaling pathway</tspan><tspan x="77.3" dy="10.42">Chemokine signaling pathway</tspan><tspan x="77.3" dy="10.42">Lysosome</tspan></text>
<text class="tk" y="893"><tspan x="104.3">0</tspan><tspan x="133.7">20</tspan><tspan x="163.3">40</tspan><tspan x="193">60</tspan><tspan x="222.7">80</tspan></text>
<text class="ax" x="161" y="898.5">-LogP</text>
<text class="ax" transform="translate(5.6,785) rotate(-90)">KEGG Pathway</text>
<text class="lt" x="245.7" y="776.8">Change</text>
<rect x="246.7" y="780.6" width="5.7" height="4.8" fill="#F8766D"/><rect x="246.7" y="787.9" width="5.7" height="4.8" fill="#00BFC4"/>
<text class="lg" x="255" y="784.3" font-size="3.3">Down</text><text class="lg" x="255" y="791.6" font-size="3.3">Up</text>
<text class="L" x="256.7" y="898.3">J</text>

<!-- ================= K ================= -->
<text class="bt" x="398.3" y="668.5">hip_Neutrophils</text>
<path d="M447.5 684.05V883" stroke="#ebebeb" stroke-width="137" stroke-dasharray=".5 9.92"/>
<path class="gmin" d="M407.5 678V888.5M437.2 678V888.5M466.9 678V888.5M496.5 678V888.5"/>
<path class="grid" d="M392.6 678V888.5M422.3 678V888.5M452 678V888.5M481.7 678V888.5M511.3 678V888.5"/>
<g fill="#00BFC4">
<rect x="452" y="682" width="58" height="4.6"/><rect x="452" y="692.4" width="55" height="4.6"/><rect x="452" y="702.8" width="33.3" height="4.6"/><rect x="452" y="713.3" width="29" height="4.6"/><rect x="452" y="723.7" width="26.7" height="4.6"/><rect x="452" y="734.1" width="26" height="4.6"/><rect x="452" y="744.5" width="26" height="4.6"/><rect x="452" y="754.9" width="20.7" height="4.6"/><rect x="452" y="765.4" width="19" height="4.6"/><rect x="452" y="775.8" width="15.3" height="4.6"/>
</g>
<g fill="#F8766D">
<rect x="429.7" y="786.2" width="22.3" height="4.6"/><rect x="422.7" y="796.6" width="29.3" height="4.6"/><rect x="422" y="807" width="30" height="4.6"/><rect x="419.3" y="817.5" width="32.7" height="4.6"/><rect x="410.7" y="827.9" width="41.3" height="4.6"/><rect x="399.3" y="838.3" width="52.7" height="4.6"/><rect x="394.3" y="848.7" width="57.7" height="4.6"/><rect x="388" y="859.1" width="64" height="4.6"/><rect x="387.7" y="869.6" width="64.3" height="4.6"/><rect x="385.7" y="880" width="66.3" height="4.6"/>
</g>
<text class="bl" y="685.5"><tspan x="377.7">Malaria</tspan><tspan x="377.7" dy="10.42">Ribosome</tspan><tspan x="377.7" dy="10.42">Spliceosome</tspan><tspan x="377.7" dy="10.42">Porphyrin and chlorophyll metabolism</tspan><tspan x="377.7" dy="10.42">Epstein−Barr virus infection</tspan><tspan x="377.7" dy="10.42">Antigen processing and presentation</tspan><tspan x="377.7" dy="10.42">Cell adhesion molecules (CAMs)</tspan><tspan x="377.7" dy="10.42">African trypanosomiasis</tspan><tspan x="377.7" dy="10.42">ECM−receptor interaction</tspan><tspan x="377.7" dy="10.42">AGE−RAGE signaling pathway in diabetic complications</tspan><tspan x="377.7" dy="10.42">Measles</tspan><tspan x="377.7" dy="10.42">Rheumatoid arthritis</tspan><tspan x="377.7" dy="10.42">Salmonella infection</tspan><tspan x="377.7" dy="10.42">Pertussis</tspan><tspan x="377.7" dy="10.42">Influenza A</tspan><tspan x="377.7" dy="10.42">TNF signaling pathway</tspan><tspan x="377.7" dy="10.42">IL−17 signaling pathway</tspan><tspan x="377.7" dy="10.42">NF−kappa B signaling pathway</tspan><tspan x="377.7" dy="10.42">Leishmania infection</tspan><tspan x="377.7" dy="10.42">Osteoclast differentiation</tspan></text>
<text class="tk" y="893"><tspan x="392.6">8</tspan><tspan x="422.3">4</tspan><tspan x="452">0</tspan><tspan x="481.7">4</tspan><tspan x="511.3">8</tspan></text>
<text class="ax" x="447.3" y="898.5">-LogP</text>
<text class="ax" transform="translate(282.6,785) rotate(-90)">KEGG Pathway</text>
<text class="lt" x="523.3" y="776.8">Change</text>
<rect x="524.3" y="780.6" width="5.7" height="4.8" fill="#F8766D"/><rect x="524.3" y="787.9" width="5.7" height="4.8" fill="#00BFC4"/>
<text class="lg" x="532.7" y="784.3" font-size="3.3">Down</text><text class="lg" x="532.7" y="791.6" font-size="3.3">Up</text>
<text class="L" x="536" y="898">K</text>

<!-- ================= L ================= -->
<text class="bt" x="648" y="668.5">leg Neutrophils</text>
<path d="M711.5 684.05V883" stroke="#ebebeb" stroke-width="161" stroke-dasharray=".5 9.92"/>
<path class="gmin" d="M674 678V888.5M717.7 678V888.5M761.7 678V888.5"/>
<path class="grid" d="M652.3 678V888.5M695.7 678V888.5M739.7 678V888.5M783.7 678V888.5"/>
<g fill="#00BFC4">
<rect x="652.3" y="682" width="132.4" height="4.6"/><rect x="652.3" y="692.4" width="36.4" height="4.6"/><rect x="652.3" y="702.8" width="34.7" height="4.6"/><rect x="652.3" y="713.3" width="29.7" height="4.6"/><rect x="652.3" y="723.7" width="24.7" height="4.6"/><rect x="652.3" y="734.1" width="23.7" height="4.6"/><rect x="652.3" y="744.5" width="23" height="4.6"/><rect x="652.3" y="754.9" width="20.4" height="4.6"/><rect x="652.3" y="765.4" width="17.7" height="4.6"/><rect x="652.3" y="775.8" width="6" height="4.6"/>
</g>
<g fill="#F8766D">
<rect x="645.3" y="786.2" width="7" height="4.6"/><rect x="645" y="796.6" width="7.3" height="4.6"/><rect x="645" y="807" width="7.3" height="4.6"/><rect x="644.7" y="817.5" width="7.6" height="4.6"/><rect x="644.3" y="827.9" width="8" height="4.6"/><rect x="644" y="838.3" width="8.3" height="4.6"/><rect x="644" y="848.7" width="8.3" height="4.6"/><rect x="643" y="859.1" width="9.3" height="4.6"/><rect x="643" y="869.6" width="9.3" height="4.6"/><rect x="638.7" y="880" width="13.6" height="4.6"/>
</g>
<text class="bl" y="685.5"><tspan x="629">Ribosome</tspan><tspan x="629" dy="10.42">Oxidative phosphorylation</tspan><tspan x="629" dy="10.42">Parkinson's disease</tspan><tspan x="629" dy="10.42">Alzheimer's disease</tspan><tspan x="629" dy="10.42">Huntington's disease</tspan><tspan x="629" dy="10.42">Spliceosome</tspan><tspan x="629" dy="10.42">Proteasome</tspan><tspan x="629" dy="10.42">Epstein−Barr virus infection</tspan><tspan x="629" dy="10.42">Non−alcoholic fatty liver disease (NAFLD)</tspan><tspan x="629" dy="10.42">Retrograde endocannabinoid signaling</tspan><tspan x="629" dy="10.42">Neurotrophin signaling pathway</tspan><tspan x="629" dy="10.42">Glucagon signaling pathway</tspan><tspan x="629" dy="10.42">cAMP signaling pathway</tspan><tspan x="629" dy="10.42">circadian entrainment</tspan><tspan x="629" dy="10.42">Adrenergic signaling in cardiomyocytes</tspan><tspan x="629" dy="10.42">Ras signaling pathway</tspan><tspan x="629" dy="10.42">Dopaminergic synapse</tspan><tspan x="629" dy="10.42">Oxytocin signaling pathway</tspan><tspan x="629" dy="10.42">Long−term potentiation</tspan><tspan x="629" dy="10.42">Pertussis</tspan></text>
<text class="tk" y="893"><tspan x="652.3">0</tspan><tspan x="695.7">20</tspan><tspan x="739.7">40</tspan><tspan x="783.7">60</tspan></text>
<text class="ax" x="709" y="898.8">-LogP</text>
<text class="ax" transform="translate(557,786) rotate(-90)">KEGG Pathway</text>
<text class="lt" x="798.7" y="776.8">Change</text>
<rect x="799.7" y="780.6" width="5.7" height="4.8" fill="#F8766D"/><rect x="799.7" y="787.9" width="5.7" height="4.8" fill="#00BFC4"/>
<text class="lg" x="808" y="784.3" font-size="3.3">Down</text><text class="lg" x="808" y="791.6" font-size="3.3">Up</text>
<text class="L" x="815.7" y="898">L</text>
</svg>
</body></html>
